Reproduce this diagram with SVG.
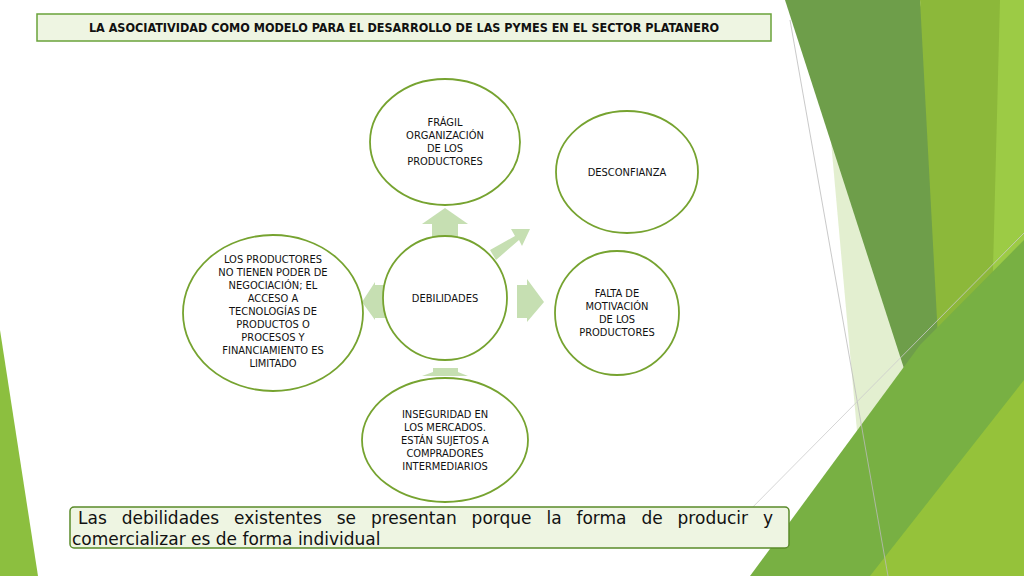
<svg xmlns="http://www.w3.org/2000/svg" width="1024" height="576" viewBox="0 0 1024 576">
<style>
.n{fill:#fff;stroke:#76a330;stroke-width:1.8}
.t{font-family:"DejaVu Sans Condensed","DejaVu Sans",sans-serif;font-size:11px;fill:#111;text-anchor:middle}
.ar{fill:#c6dfb2}
</style>
<rect width="1024" height="576" fill="#fff"/>
<g id="decor">
<polygon points="0,330 38,576 0,576" fill="#8cbf3f"/>
<polygon points="830,130 1000,576 870,576" fill="#dcebc4" opacity="0.8"/>
<polygon points="785,0 920,0 965,320 940,480" fill="#6e9e4a"/>
<polygon points="920,0 1024,0 1024,576 960,576 945,470" fill="#8cb83a"/>
<polygon points="1000,0 1024,0 1024,576 985,576" fill="#9ccb45"/>
<polygon points="750,576 920,345 1024,240 1024,576" fill="#78b043"/>
<polygon points="870,576 1024,380 1024,576" fill="#95c23a"/>
<line x1="790" y1="20" x2="888" y2="576" stroke="#bbb" stroke-width="0.8"/>
<line x1="740" y1="520" x2="1024" y2="233" stroke="#ccc" stroke-width="0.8"/>
</g>
<g id="title">
<rect x="37" y="14" width="734" height="27" fill="#eef5e2" stroke="#6aa23a" stroke-width="1.5"/>
<text x="404" y="32" font-family="DejaVu Sans Condensed,DejaVu Sans,sans-serif" font-size="12.5" font-weight="bold" text-anchor="middle" fill="#111">LA ASOCIATIVIDAD COMO MODELO PARA EL DESARROLLO DE LAS PYMES EN EL SECTOR PLATANERO</text>
</g>
<g id="connectors">
<polygon class="ar" points="432,240 432,224 422,224 445,208 468,224 458,224 458,240"/>
<polygon class="ar" points="490,250 515,236 511,229 530,229 522,246 519,240 496,260"/>
<polygon class="ar" points="517,285 527,285 527,279 544,302 527,322 527,318 517,318"/>
<polygon class="ar" points="388,285 375,285 375,282 362,302 375,320 375,318 388,318"/>
<polygon class="ar" points="433,368 458,368 458,372 468,376 422,376 433,372"/>
</g>
<g id="n-center"><ellipse class="n" cx="445" cy="298" rx="62" ry="62"/><text class="t" x="445" y="302" font-size="12.5">DEBILIDADES</text></g>
<g id="n-fragil"><ellipse class="n" cx="445" cy="142" rx="75" ry="63"/>
<text class="t" x="445" y="126">FRÁGIL</text><text class="t" x="445" y="139">ORGANIZACIÓN</text><text class="t" x="445" y="152">DE LOS</text><text class="t" x="445" y="165">PRODUCTORES</text></g>
<g id="n-desconf"><ellipse class="n" cx="627" cy="172" rx="71" ry="61"/><text class="t" x="627" y="176">DESCONFIANZA</text></g>
<g id="n-falta"><ellipse class="n" cx="617" cy="313" rx="62" ry="62"/>
<text class="t" x="617" y="297">FALTA DE</text><text class="t" x="617" y="310">MOTIVACIÓN</text><text class="t" x="617" y="323">DE LOS</text><text class="t" x="617" y="336">PRODUCTORES</text></g>
<g id="n-left"><ellipse class="n" cx="273" cy="313" rx="90" ry="78"/>
<text class="t" x="273" y="263">LOS PRODUCTORES</text><text class="t" x="273" y="276">NO TIENEN PODER DE</text><text class="t" x="273" y="289">NEGOCIACIÓN; EL</text><text class="t" x="273" y="302">ACCESO A</text><text class="t" x="273" y="315">TECNOLOGÍAS DE</text><text class="t" x="273" y="328">PRODUCTOS O</text><text class="t" x="273" y="341">PROCESOS Y</text><text class="t" x="273" y="354">FINANCIAMIENTO ES</text><text class="t" x="273" y="367">LIMITADO</text></g>
<g id="n-bottom"><ellipse class="n" cx="445" cy="440" rx="83" ry="62"/>
<text class="t" x="445" y="418">INSEGURIDAD EN</text><text class="t" x="445" y="431">LOS MERCADOS.</text><text class="t" x="445" y="444">ESTÁN SUJETOS A</text><text class="t" x="445" y="457">COMPRADORES</text><text class="t" x="445" y="470">INTERMEDIARIOS</text></g>
<g id="note">
<rect x="70" y="507" width="719" height="41" rx="4" fill="#eef5e2" stroke="#5a8a2a" stroke-width="1.5"/>
<text font-family="DejaVu Sans,sans-serif" font-size="17" fill="#111"><tspan x="78" y="524" word-spacing="9.5">Las debilidades existentes se presentan porque la forma de producir y</tspan><tspan x="72" y="545">comercializar es de forma individual</tspan></text>
</g>
</svg>
